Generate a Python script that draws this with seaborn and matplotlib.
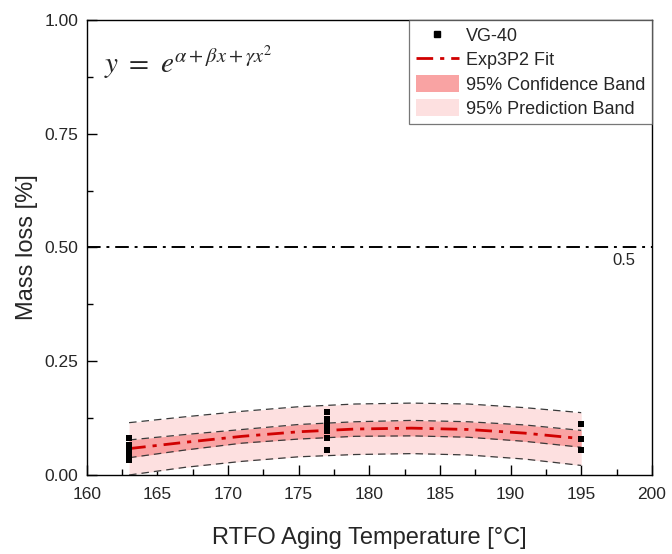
import numpy as np
import pandas as pd
import matplotlib
matplotlib.use("Agg")
import matplotlib.pyplot as plt
from matplotlib.lines import Line2D
from matplotlib.patches import Patch
from matplotlib.ticker import MultipleLocator
import seaborn as sns

# --- data ---
temp_obs = [163, 163, 163, 163, 163, 163,
            177, 177, 177, 177, 177, 177,
            195, 195, 195]
mass_obs = [0.082, 0.066, 0.058, 0.050, 0.040, 0.032,
            0.138, 0.124, 0.110, 0.096, 0.081, 0.055,
            0.112, 0.079, 0.055]

fit_x = [163, 167, 171, 175, 179, 183, 187, 191, 195]
fit_y = [0.058, 0.072, 0.085, 0.095, 0.101, 0.103, 0.100, 0.092, 0.080]
conf_lo = [0.038, 0.055, 0.070, 0.079, 0.085, 0.086, 0.083, 0.074, 0.061]
conf_hi = [0.077, 0.089, 0.100, 0.111, 0.117, 0.120, 0.117, 0.110, 0.098]
pred_lo = [0.000, 0.017, 0.030, 0.040, 0.045, 0.047, 0.044, 0.035, 0.021]
pred_hi = [0.115, 0.128, 0.140, 0.150, 0.156, 0.158, 0.156, 0.148, 0.137]

ref_level = 0.5
x_ticks = [160, 165, 170, 175, 180, 185, 190, 195, 200]
y_ticks = [0.00, 0.25, 0.50, 0.75, 1.00]

sns.set_theme(style="ticks")
plt.rcParams["font.family"] = ["Liberation Sans", "DejaVu Sans"]
plt.rcParams["mathtext.fontset"] = "stix"

fig = plt.figure(figsize=(6.72, 5.54), dpi=100)
ax = fig.add_axes([0.129, 0.1426, 0.841, 0.8214])

fit_df = pd.DataFrame({"x": fit_x, "y": fit_y, "clo": conf_lo, "chi": conf_hi,
                       "plo": pred_lo, "phi": pred_hi})
obs_df = pd.DataFrame({"T": temp_obs, "m": mass_obs})

pred_col = "#fde0e0"
conf_col = "#f9a3a3"
ax.fill_between(fit_df["x"], fit_df["plo"], fit_df["phi"], color=pred_col, lw=0, zorder=1)
ax.fill_between(fit_df["x"], fit_df["clo"], fit_df["chi"], color=conf_col, lw=0, zorder=2)

for col in ["plo", "phi", "clo", "chi"]:
    sns.lineplot(data=fit_df, x="x", y=col, ax=ax, color="#3a3a3a", lw=0.9,
                 linestyle=(0, (6, 4)), zorder=3)
sns.lineplot(data=fit_df, x="x", y="y", ax=ax, color="#d00000", lw=2.0,
             linestyle=(0, (6, 2.5, 1.5, 2.5)), zorder=5)
sns.scatterplot(data=obs_df, x="T", y="m", ax=ax, marker="s", s=22,
                color="black", edgecolor="black", linewidth=0, zorder=6)

ax.axhline(ref_level, color="black", lw=1.4, linestyle=(0, (7, 3, 1.5, 3)), zorder=4)
ax.text(198.8, ref_level - 0.012, "0.5", ha="right", va="top", fontsize=12)

ax.text(161.2, 0.905, r"$y\ =\ e^{\alpha+\beta x+\gamma x^{2}}$", fontsize=21,
        ha="left", va="center")

ax.set_xlim(160, 200)
ax.set_ylim(0, 1.0)
ax.set_xticks(x_ticks)
ax.set_yticks(y_ticks)
ax.set_yticklabels([f"{v:.2f}" for v in y_ticks])
ax.xaxis.set_minor_locator(MultipleLocator(2.5))
ax.yaxis.set_minor_locator(MultipleLocator(0.125))
ax.tick_params(which="major", direction="in", length=7, width=1.0, labelsize=12.5,
               top=False, right=False, color="black")
ax.tick_params(which="minor", direction="in", length=4, width=1.0,
               top=False, right=False, color="black")
ax.tick_params(axis="x", pad=9)
ax.tick_params(axis="y", pad=6)
for s in ax.spines.values():
    s.set_color("black")
    s.set_linewidth(1.0)

ax.set_xlabel("RTFO Aging Temperature [°C]", fontsize=17, labelpad=18)
ax.set_ylabel("Mass loss [%]", fontsize=17, labelpad=5)

handles = [
    Line2D([], [], marker="s", color="black", lw=0, markersize=5),
    Line2D([], [], color="#d00000", lw=2.0, linestyle=(0, (6, 2.5, 1.5, 2.5))),
    Patch(facecolor=conf_col, edgecolor="none"),
    Patch(facecolor=pred_col, edgecolor="none"),
]
labels = ["VG-40", "Exp3P2 Fit", "95% Confidence Band", "95% Prediction Band"]
leg = ax.legend(handles, labels, loc="upper right", bbox_to_anchor=(1.0, 1.0),
                fontsize=13, frameon=True, fancybox=False, edgecolor="#555555",
                borderpad=0.35, labelspacing=0.3, handlelength=2.4,
                handleheight=1.1, handletextpad=0.4, borderaxespad=0.0)
leg.get_frame().set_linewidth(0.9)

fig.savefig("out.png", dpi=100)
